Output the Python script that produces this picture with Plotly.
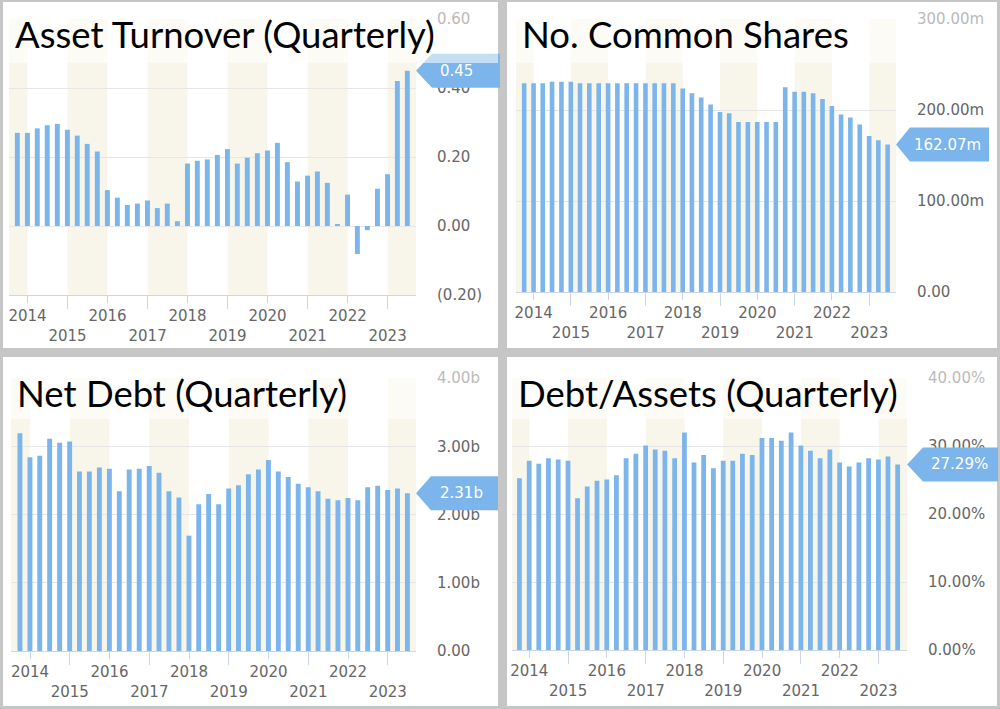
import plotly.graph_objects as go

# ---------------- data ----------------
quarters = [
    "2013-09-30", "2013-12-31",
    "2014-03-31", "2014-06-30", "2014-09-30", "2014-12-31",
    "2015-03-31", "2015-06-30", "2015-09-30", "2015-12-31",
    "2016-03-31", "2016-06-30", "2016-09-30", "2016-12-31",
    "2017-03-31", "2017-06-30", "2017-09-30", "2017-12-31",
    "2018-03-31", "2018-06-30", "2018-09-30", "2018-12-31",
    "2019-03-31", "2019-06-30", "2019-09-30", "2019-12-31",
    "2020-03-31", "2020-06-30", "2020-09-30", "2020-12-31",
    "2021-03-31", "2021-06-30", "2021-09-30", "2021-12-31",
    "2022-03-31", "2022-06-30", "2022-09-30", "2022-12-31",
    "2023-03-31", "2023-06-30",
]

asset_turnover = [0.270, 0.270, 0.283, 0.292, 0.296, 0.279, 0.262, 0.238, 0.216, 0.104,
                  0.082, 0.061, 0.065, 0.074, 0.052, 0.065, 0.014, 0.181, 0.189, 0.193,
                  0.206, 0.223, 0.181, 0.198, 0.211, 0.219, 0.241, 0.185, 0.129, 0.146,
                  0.158, 0.125, 0.005, 0.091, -0.081, -0.012, 0.108, 0.150, 0.420, 0.45]

common_shares_m = [229.5, 229.5, 229.5, 231.0, 231.0, 231.0, 229.5, 229.5, 229.5, 229.5,
                   229.5, 229.5, 229.5, 229.5, 229.5, 229.5, 229.5, 223.6, 218.5, 213.7,
                   206.0, 197.9, 196.4, 186.9, 186.9, 186.9, 186.9, 186.9, 225.1, 220.0,
                   220.0, 218.5, 212.2, 204.5, 195.0, 191.7, 184.0, 171.5, 166.7, 162.07]

net_debt_b = [3.19, 2.84, 2.86, 3.11, 3.05, 3.07, 2.63, 2.63, 2.69, 2.67,
              2.34, 2.66, 2.67, 2.71, 2.61, 2.34, 2.25, 1.69, 2.15, 2.30,
              2.15, 2.38, 2.43, 2.59, 2.66, 2.80, 2.63, 2.55, 2.45, 2.40,
              2.34, 2.23, 2.21, 2.24, 2.21, 2.40, 2.42, 2.36, 2.38, 2.31]

debt_assets_pct = [25.27, 27.82, 27.38, 28.21, 28.02, 27.82, 22.33, 24.04, 24.88, 25.07,
                   25.71, 28.21, 28.85, 30.08, 29.49, 29.29, 28.21, 31.99, 27.58, 28.66,
                   26.74, 27.82, 27.82, 28.85, 28.66, 31.16, 31.16, 30.77, 31.99, 30.08,
                   29.29, 28.21, 29.49, 27.58, 26.99, 27.58, 28.21, 28.02, 28.46, 27.29]

years = [2014, 2015, 2016, 2017, 2018, 2019, 2020, 2021, 2022, 2023]
band_years = [2013, 2015, 2017, 2019, 2021, 2023]

titles = ["Asset Turnover (Quarterly)", "No. Common Shares",
          "Net Debt (Quarterly)", "Debt/Assets (Quarterly)"]

at_ticks = [-0.2, 0.0, 0.2, 0.4, 0.6]
at_ticktext = ["(0.20)", "0.00", "0.20", "0.40", "0.60"]
sh_ticks = [0, 100, 200, 300]
sh_ticktext = ["0.00", "100.00m", "200.00m", "300.00m"]
nd_ticks = [0, 1, 2, 3, 4]
nd_ticktext = ["0.00", "1.00b", "2.00b", "3.00b", "4.00b"]
da_ticks = [0, 10, 20, 30, 40]
da_ticktext = ["0.00%", "10.00%", "20.00%", "30.00%", "40.00%"]

# ---------------- styling / layout ----------------
W, H = 1000, 709
BAR = "#7cb5ec"
BAND = "#f8f6ea"
AXIS = "#ccd6eb"
GRID = "#e6e6e6"
LABEL = "#666666"
TICKFONT = dict(family="DejaVu Sans", size=15, color=LABEL)

panels = [
    dict(values=asset_turnover, ticks=at_ticks, ticktext=at_ticktext, yrange=[-0.2, 0.6],
         fmt=lambda v: f"{v:.2f}",
         px=(9, 416), py=(19, 295), box=(3, 2, 498, 348),
         xr=["2013-07-16", "2023-09-17"], callout=(16, 84), ctext_x=438, overlay=(8, 63)),
    dict(values=common_shares_m, ticks=sh_ticks, ticktext=sh_ticktext, yrange=[0, 300],
         fmt=lambda v: f"{v:.2f}m",
         px=(516, 896), py=(19, 292), box=(507, 2, 997, 348),
         xr=["2013-07-12", "2023-09-20"], callout=(14, 93), ctext_x=912, overlay=(8, 63)),
    dict(values=net_debt_b, ticks=nd_ticks, ticktext=nd_ticktext, yrange=[0, 4],
         fmt=lambda v: f"{v:.2f}b",
         px=(11, 416), py=(378, 651), box=(3, 357, 498, 706),
         xr=["2013-07-10", "2023-09-17"], callout=(15, 82), ctext_x=438, overlay=(363, 419)),
    dict(values=debt_assets_pct, ticks=da_ticks, ticktext=da_ticktext, yrange=[0, 40],
         fmt=lambda v: f"{v:.2f}%",
         px=(512, 907), py=(378, 650), box=(507, 357, 997, 706),
         xr=["2013-07-22", "2023-09-26"], callout=(16, 91), ctext_x=929, overlay=(363, 419)),
]


def fx(p):
    return p / W


def fy(p):
    return 1 - p / H


fig = go.Figure()
layout = dict(
    width=W, height=H, margin=dict(l=0, r=0, t=0, b=0, autoexpand=False),
    paper_bgcolor="#c6c6c6", plot_bgcolor="white",
    bargap=0.5, showlegend=False,
)
shapes = []
annotations = []

year_vals = [f"{y}-01-01" for y in years]
year_text = [str(y) if y % 2 == 0 else "<br>" + str(y) for y in years]
odd_vals = [f"{y}-01-01" for y in years if y % 2 == 1]

for i, p in enumerate(panels, start=1):
    sfx = "" if i == 1 else str(i)
    xa, ya = f"x{sfx}", f"y{sfx}"
    # panel background
    x0, y0, x1, y1 = p["box"]
    shapes.append(dict(type="rect", xref="paper", yref="paper", x0=fx(x0), x1=fx(x1),
                       y0=fy(y1), y1=fy(y0), fillcolor="white", line=dict(width=0),
                       layer="below"))
    fig.add_trace(go.Bar(x=quarters, y=p["values"], xaxis=xa, yaxis=ya,
                         marker=dict(color=BAR, line=dict(width=0)),
                         hoverinfo="x+y"))
    layout[f"xaxis{sfx}"] = dict(
        type="date", domain=[fx(p["px"][0]), fx(p["px"][1])], anchor=ya,
        range=p["xr"], tickmode="array", tickvals=year_vals, ticktext=year_text,
        tickangle=0, automargin=False,
        ticks="outside", ticklen=7, tickcolor=AXIS, tickwidth=1,
        showline=True, linecolor=AXIS, linewidth=1, showgrid=False, zeroline=False,
        tickfont=TICKFONT, fixedrange=True,
        minor=dict(tickmode="array", tickvals=odd_vals, ticks="outside", ticklen=13,
                   tickcolor=AXIS, tickwidth=1, showgrid=False),
    )
    layout[f"yaxis{sfx}"] = dict(
        domain=[fy(p["py"][1]), fy(p["py"][0])], anchor=xa, side="right",
        range=p["yrange"], tickmode="array", tickvals=p["ticks"], ticktext=p["ticktext"],
        showgrid=True, gridcolor=GRID, gridwidth=1, zeroline=False, showline=False,
        ticks="", ticklabelstandoff=20, tickfont=TICKFONT, fixedrange=True,
        automargin=False,
    )
    # alternating year bands
    for by in band_years:
        shapes.append(dict(type="rect", xref=xa, yref=f"{ya} domain",
                           x0=f"{by}-01-01", x1=f"{by + 1}-01-01", y0=0, y1=1,
                           fillcolor=BAND, line=dict(width=0), layer="below"))
    # last value callout
    last = p["values"][-1]
    a, w = p["callout"]
    shapes.append(dict(type="path", xref="paper", yref=ya,
                       xsizemode="pixel", ysizemode="pixel",
                       xanchor=fx(p["px"][1]), yanchor=last,
                       path=f"M0,0 L{a},17 L{w},17 L{w},-17 L{a},-17 Z",
                       fillcolor=BAR, line=dict(width=0), layer="above"))
    annotations.append(dict(xref="paper", yref=ya, x=fx(p["ctext_x"]), y=last,
                            xanchor="left", yanchor="middle", showarrow=False,
                            text=p["fmt"](last),
                            font=dict(family="DejaVu Sans", size=15, color="white")))
    # translucent title band
    oy0, oy1 = p["overlay"]
    shapes.append(dict(type="rect", xref="paper", yref="paper", x0=fx(x0), x1=fx(x1),
                       y0=fy(oy1), y1=fy(oy0), fillcolor="white", opacity=0.55,
                       line=dict(width=0), layer="above"))
    annotations.append(dict(xref="paper", yref="paper", x=fx(p["px"][0] + 4),
                            y=fy(p["py"][0] - 9), xanchor="left", yanchor="top",
                            showarrow=False, text=titles[i - 1],
                            font=dict(family="Lato", size=36.5, color="black")))

layout["shapes"] = shapes
layout["annotations"] = annotations
fig.update_layout(**layout)
fig.write_html("out.html")
